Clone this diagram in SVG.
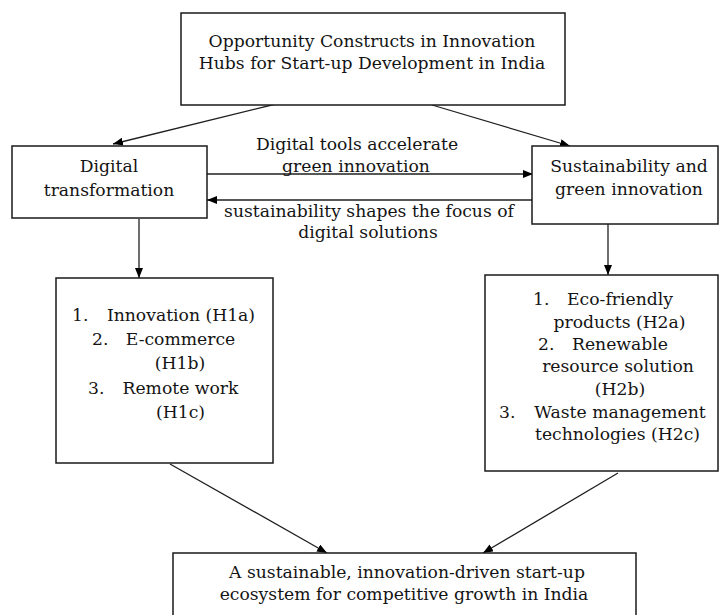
<svg xmlns="http://www.w3.org/2000/svg" width="719" height="615" viewBox="0 0 719 615">
<style>
  .box { fill: #ffffff; stroke: #1a1a1a; stroke-width: 1.5; }
  .conn line { stroke: #1f1f1f; stroke-width: 1.3; }
  text { font-family: "DejaVu Serif", "Liberation Serif", serif; font-size: 17.2px; fill: #141414; }
  .c { text-anchor: middle; }
</style>
<defs>
  <marker id="arr" viewBox="0 0 10 8" refX="10" refY="4" markerWidth="10" markerHeight="8" markerUnits="userSpaceOnUse" orient="auto">
    <path d="M0,0 L10,4 L0,8 z" fill="#000000"/>
  </marker>
</defs>
<rect width="719" height="615" fill="#ffffff"/>

<g id="connectors" class="conn">
  <line x1="280" y1="103" x2="113" y2="144" marker-end="url(#arr)"/>
  <line x1="432" y1="105" x2="570" y2="146" marker-end="url(#arr)"/>
  <line x1="207" y1="174" x2="533" y2="174" marker-end="url(#arr)"/>
  <line x1="533" y1="200" x2="207" y2="200" marker-end="url(#arr)"/>
  <line x1="139" y1="219" x2="139" y2="278" marker-end="url(#arr)"/>
  <line x1="608" y1="224" x2="608" y2="275" marker-end="url(#arr)"/>
  <line x1="170" y1="464" x2="327" y2="553" marker-end="url(#arr)"/>
  <line x1="618" y1="473" x2="483" y2="553" marker-end="url(#arr)"/>
  <text class="c" x="357" y="150">Digital tools accelerate</text>
  <text class="c" x="356" y="172">green innovation</text>
  <text class="c" x="369" y="217">sustainability shapes the focus of</text>
  <text class="c" x="368" y="238">digital solutions</text>
</g>

<g id="top">
  <rect class="box" x="181" y="13" width="384" height="92"/>
  <text class="c" x="372" y="47">Opportunity Constructs in Innovation</text>
  <text class="c" x="372" y="69">Hubs for Start-up Development in India</text>
</g>

<g id="digital">
  <rect class="box" x="12" y="146" width="195" height="72"/>
  <text class="c" x="109" y="172">Digital</text>
  <text class="c" x="109" y="196">transformation</text>
</g>

<g id="sustain">
  <rect class="box" x="532" y="146" width="186" height="78"/>
  <text class="c" x="629" y="172">Sustainability and</text>
  <text class="c" x="629" y="195">green innovation</text>
</g>

<g id="h1">
  <rect class="box" x="56" y="278" width="217" height="185"/>
  <text x="72" y="321">1.</text>
  <text class="c" x="181" y="321">Innovation (H1a)</text>
  <text x="92" y="345">2.</text>
  <text class="c" x="180.5" y="345">E-commerce</text>
  <text class="c" x="180" y="369">(H1b)</text>
  <text x="88" y="394">3.</text>
  <text class="c" x="180.5" y="394">Remote work</text>
  <text class="c" x="180.5" y="418">(H1c)</text>
</g>

<g id="h2">
  <rect class="box" x="485" y="275" width="233" height="196"/>
  <text x="533" y="305">1.</text>
  <text class="c" x="620" y="305">Eco-friendly</text>
  <text class="c" x="619.5" y="328">products (H2a)</text>
  <text x="538" y="350">2.</text>
  <text class="c" x="620" y="350">Renewable</text>
  <text class="c" x="618" y="372">resource solution</text>
  <text class="c" x="620" y="395">(H2b)</text>
  <text x="499" y="418">3.</text>
  <text class="c" x="620" y="418">Waste management</text>
  <text class="c" x="617.5" y="440">technologies (H2c)</text>
</g>

<g id="outcome">
  <rect class="box" x="173" y="553" width="463" height="70"/>
  <text class="c" x="407" y="578">A sustainable, innovation-driven start-up</text>
  <text class="c" x="404" y="600">ecosystem for competitive growth in India</text>
</g>
</svg>
